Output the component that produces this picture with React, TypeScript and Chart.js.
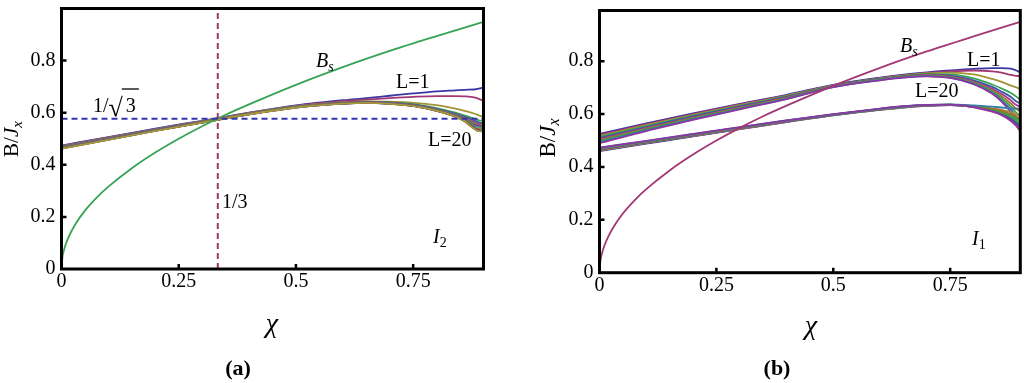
import React, { useEffect, useRef } from "react";
import { Chart, registerables } from "chart.js";

Chart.register(...registerables);

// ---------- data ----------
const X_TICKS = [0, 0.25, 0.5, 0.75];
const X_TICK_LABELS = ["0", "0.25", "0.5", "0.75"];
const Y_TICKS = [0, 0.2, 0.4, 0.6, 0.8];
const Y_TICK_LABELS = ["0", "0.2", "0.4", "0.6", "0.8"];

const BS_X = [0, 0.002, 0.005, 0.01, 0.02, 0.03, 0.05, 0.075, 0.1, 0.15, 0.2, 0.25, 0.3, 0.35, 0.4, 0.5, 0.6, 0.7, 0.8, 0.9];
const BS_Y = [0, 0.045, 0.071, 0.1, 0.141, 0.173, 0.224, 0.274, 0.316, 0.387, 0.447, 0.5, 0.548, 0.592, 0.632, 0.707, 0.775, 0.837, 0.894, 0.949];

const CHI_X = [0, 0.1, 0.2, 0.3, 0.4, 0.5, 0.6, 0.65, 0.7, 0.75, 0.8, 0.84, 0.86, 0.88, 0.89, 0.9];

// panel (a): I2, L = 1..20
const A_L = [
  [0.474, 0.506, 0.539, 0.569, 0.600, 0.628, 0.648, 0.656, 0.665, 0.674, 0.682, 0.686, 0.688, 0.689, 0.692, 0.697],
  [0.473, 0.505, 0.537, 0.568, 0.599, 0.626, 0.644, 0.650, 0.656, 0.661, 0.664, 0.664, 0.663, 0.659, 0.653, 0.645],
  [0.471, 0.503, 0.536, 0.567, 0.598, 0.625, 0.640, 0.643, 0.642, 0.638, 0.629, 0.616, 0.607, 0.597, 0.590, 0.583],
  [0.470, 0.502, 0.535, 0.566, 0.598, 0.624, 0.639, 0.642, 0.640, 0.633, 0.618, 0.600, 0.589, 0.577, 0.571, 0.567],
  [0.469, 0.502, 0.535, 0.566, 0.597, 0.624, 0.638, 0.641, 0.639, 0.631, 0.615, 0.596, 0.584, 0.570, 0.563, 0.558],
  [0.469, 0.501, 0.534, 0.565, 0.597, 0.623, 0.638, 0.641, 0.638, 0.630, 0.613, 0.593, 0.580, 0.564, 0.556, 0.552],
  [0.468, 0.501, 0.534, 0.565, 0.597, 0.623, 0.638, 0.640, 0.638, 0.629, 0.612, 0.591, 0.578, 0.560, 0.551, 0.556],
  [0.468, 0.500, 0.533, 0.565, 0.596, 0.623, 0.637, 0.640, 0.637, 0.629, 0.611, 0.590, 0.576, 0.557, 0.548, 0.548],
  [0.467, 0.500, 0.533, 0.564, 0.596, 0.622, 0.637, 0.640, 0.637, 0.628, 0.610, 0.589, 0.574, 0.554, 0.545, 0.543],
  [0.467, 0.500, 0.533, 0.564, 0.596, 0.622, 0.637, 0.640, 0.637, 0.628, 0.610, 0.588, 0.573, 0.552, 0.550, 0.540],
  [0.466, 0.499, 0.532, 0.564, 0.596, 0.622, 0.637, 0.639, 0.636, 0.628, 0.609, 0.588, 0.572, 0.550, 0.540, 0.545],
  [0.466, 0.499, 0.532, 0.564, 0.595, 0.622, 0.636, 0.639, 0.636, 0.627, 0.609, 0.587, 0.571, 0.548, 0.538, 0.537],
  [0.465, 0.499, 0.532, 0.563, 0.595, 0.621, 0.636, 0.639, 0.636, 0.627, 0.609, 0.587, 0.570, 0.546, 0.545, 0.535],
  [0.465, 0.498, 0.532, 0.563, 0.595, 0.621, 0.636, 0.639, 0.636, 0.627, 0.608, 0.586, 0.569, 0.545, 0.535, 0.540],
  [0.464, 0.498, 0.531, 0.563, 0.595, 0.621, 0.636, 0.639, 0.635, 0.627, 0.608, 0.586, 0.569, 0.543, 0.533, 0.532],
  [0.464, 0.498, 0.531, 0.563, 0.595, 0.621, 0.636, 0.638, 0.635, 0.626, 0.608, 0.586, 0.568, 0.542, 0.540, 0.530],
  [0.463, 0.497, 0.531, 0.562, 0.594, 0.621, 0.635, 0.638, 0.635, 0.626, 0.607, 0.585, 0.568, 0.541, 0.531, 0.536],
  [0.463, 0.497, 0.531, 0.562, 0.594, 0.620, 0.635, 0.638, 0.635, 0.626, 0.607, 0.585, 0.567, 0.540, 0.530, 0.528],
  [0.462, 0.497, 0.530, 0.562, 0.594, 0.620, 0.635, 0.638, 0.634, 0.626, 0.607, 0.585, 0.567, 0.539, 0.535, 0.527],
  [0.462, 0.496, 0.530, 0.562, 0.594, 0.620, 0.635, 0.638, 0.634, 0.626, 0.607, 0.585, 0.567, 0.538, 0.529, 0.530],
];

// reference lines in panel (a)
const A_HLINE_Y = 0.577; // 1/sqrt(3)
const A_VLINE_X = 0.3333; // 1/3

// panel (b): I1, upper family
const B_UPPER = [
  [0.525, 0.565, 0.603, 0.639, 0.673, 0.711, 0.738, 0.749, 0.758, 0.765, 0.771, 0.774, 0.774, 0.772, 0.766, 0.758],
  [0.521, 0.562, 0.600, 0.637, 0.671, 0.709, 0.736, 0.747, 0.756, 0.762, 0.765, 0.762, 0.757, 0.748, 0.745, 0.744],
  [0.517, 0.558, 0.597, 0.634, 0.669, 0.708, 0.735, 0.746, 0.754, 0.757, 0.750, 0.733, 0.722, 0.708, 0.702, 0.695],
  [0.513, 0.555, 0.594, 0.631, 0.667, 0.707, 0.734, 0.745, 0.751, 0.750, 0.735, 0.712, 0.697, 0.680, 0.668, 0.655],
  [0.509, 0.551, 0.591, 0.629, 0.665, 0.706, 0.733, 0.743, 0.749, 0.746, 0.728, 0.703, 0.685, 0.665, 0.650, 0.640],
  [0.505, 0.548, 0.588, 0.626, 0.663, 0.705, 0.732, 0.742, 0.747, 0.743, 0.723, 0.696, 0.676, 0.652, 0.636, 0.628],
  [0.502, 0.545, 0.586, 0.624, 0.661, 0.704, 0.731, 0.741, 0.746, 0.741, 0.720, 0.690, 0.668, 0.640, 0.622, 0.610],
  [0.498, 0.542, 0.583, 0.622, 0.660, 0.703, 0.730, 0.740, 0.745, 0.739, 0.717, 0.685, 0.660, 0.628, 0.608, 0.590],
  [0.494, 0.539, 0.581, 0.620, 0.658, 0.702, 0.729, 0.739, 0.744, 0.738, 0.715, 0.681, 0.653, 0.617, 0.594, 0.572],
  [0.490, 0.536, 0.578, 0.618, 0.657, 0.702, 0.728, 0.738, 0.743, 0.737, 0.713, 0.677, 0.647, 0.606, 0.580, 0.555],
];

// panel (b): lower family
const B_LOWER = [
  [0.460, 0.488, 0.516, 0.543, 0.570, 0.595, 0.616, 0.625, 0.631, 0.634, 0.628, 0.615, 0.604, 0.585, 0.565, 0.545],
  [0.462, 0.490, 0.517, 0.544, 0.571, 0.596, 0.617, 0.626, 0.632, 0.634, 0.627, 0.612, 0.600, 0.578, 0.558, 0.535],
  [0.463, 0.491, 0.518, 0.545, 0.572, 0.596, 0.617, 0.626, 0.632, 0.635, 0.630, 0.622, 0.616, 0.607, 0.600, 0.592],
  [0.465, 0.492, 0.519, 0.546, 0.572, 0.597, 0.618, 0.627, 0.633, 0.635, 0.629, 0.618, 0.608, 0.595, 0.585, 0.575],
  [0.466, 0.493, 0.520, 0.547, 0.573, 0.597, 0.618, 0.627, 0.633, 0.635, 0.627, 0.613, 0.602, 0.583, 0.570, 0.556],
  [0.467, 0.494, 0.521, 0.547, 0.573, 0.598, 0.619, 0.628, 0.633, 0.635, 0.626, 0.609, 0.596, 0.574, 0.558, 0.540],
  [0.469, 0.495, 0.522, 0.548, 0.574, 0.598, 0.619, 0.628, 0.634, 0.636, 0.630, 0.620, 0.612, 0.600, 0.592, 0.582],
  [0.470, 0.496, 0.523, 0.549, 0.575, 0.599, 0.620, 0.629, 0.634, 0.636, 0.628, 0.615, 0.605, 0.590, 0.577, 0.562],
  [0.472, 0.498, 0.524, 0.550, 0.576, 0.599, 0.620, 0.629, 0.635, 0.637, 0.633, 0.628, 0.625, 0.622, 0.621, 0.620],
  [0.473, 0.499, 0.525, 0.551, 0.576, 0.600, 0.621, 0.630, 0.635, 0.636, 0.627, 0.611, 0.598, 0.576, 0.560, 0.548],
];

// ---------- styling helpers ----------
const SERIF = '"Liberation Serif", "DejaVu Serif", "Times New Roman", serif';

function hsv(h: number, s: number, v: number) {
  const c = v * s;
  const hp = (h * 6) % 6;
  const x = c * (1 - Math.abs((hp % 2) - 1));
  let r = 0, g = 0, b = 0;
  if (hp < 1) [r, g, b] = [c, x, 0];
  else if (hp < 2) [r, g, b] = [x, c, 0];
  else if (hp < 3) [r, g, b] = [0, c, x];
  else if (hp < 4) [r, g, b] = [0, x, c];
  else if (hp < 5) [r, g, b] = [x, 0, c];
  else [r, g, b] = [c, 0, x];
  const m = v - c;
  const f = (t: number) => Math.round((t + m) * 255);
  return `rgb(${f(r)},${f(g)},${f(b)})`;
}
function palette(i: number) {
  const h = (0.67 + i * 0.236068) % 1;
  return hsv(h, 0.66, 0.64);
}

function toPts(xs: number[], ys: number[]) {
  return xs.map((x, k) => ({ x, y: ys[k] }));
}

function curve(xs: number[], ys: number[], color: string, order: number, extra: any = {}) {
  return {
    data: toPts(xs, ys),
    borderColor: color,
    backgroundColor: color,
    borderWidth: 1.8,
    pointRadius: 0,
    showLine: true,
    cubicInterpolationMode: "monotone",
    order,
    ...extra,
  };
}

type Part = { t: string; font: string; dy?: number; dx?: number };
function drawParts(ctx: CanvasRenderingContext2D, x: number, y: number, parts: Part[]) {
  let cx = x;
  for (const p of parts) {
    ctx.font = p.font;
    cx += p.dx || 0;
    ctx.fillText(p.t, cx, y + (p.dy || 0));
    cx += ctx.measureText(p.t).width;
  }
  return cx;
}
function partsWidth(ctx: CanvasRenderingContext2D, parts: Part[]) {
  let w = 0;
  for (const p of parts) {
    ctx.font = p.font;
    w += ctx.measureText(p.t).width + (p.dx || 0);
  }
  return w;
}

const f = (size: number, style = "") => `${style} ${size}px ${SERIF}`.trim();

type PanelSpec = {
  yWidth: number;
  xHeight: number;
  padTop: number;
  padRight: number;
  yMax: number;
  datasets: any[];
  yTitleX: number;
  yTitleY: number;
  yTitleSize: number;
  chiX: number;
  chiY: number;
  tagX: number;
  tag: string;
  annotate: (ctx: CanvasRenderingContext2D) => void;
};

function framePlugin(spec: PanelSpec) {
  return {
    id: "frame",
    afterDraw(chart: any) {
      const ctx: CanvasRenderingContext2D = chart.ctx;
      const { left, right, top, bottom } = chart.chartArea;
      const xs = chart.scales.x;
      const ys = chart.scales.y;
      ctx.save();
      ctx.fillStyle = "#000";
      ctx.strokeStyle = "#000";
      // inner ticks
      ctx.lineWidth = 2.5;
      ctx.beginPath();
      for (const v of X_TICKS) {
        if (v === 0) continue;
        const px = xs.getPixelForValue(v);
        ctx.moveTo(px, bottom);
        ctx.lineTo(px, bottom - 5);
      }
      for (const v of Y_TICKS) {
        if (v === 0) continue;
        const py = ys.getPixelForValue(v);
        ctx.moveTo(left, py);
        ctx.lineTo(left + 5, py);
      }
      ctx.stroke();
      // frame
      ctx.lineWidth = 3;
      ctx.strokeRect(left, top, right - left, bottom - top);

      ctx.textBaseline = "alphabetic";
      ctx.textAlign = "left";
      // y title  B/J_x
      const yParts: Part[] = [
        { t: "B/", font: f(spec.yTitleSize) },
        { t: "J", font: f(spec.yTitleSize, "italic") },
        { t: "x", font: f(Math.round(spec.yTitleSize * 0.7), "italic"), dy: spec.yTitleSize * 0.2 },
      ];
      ctx.save();
      ctx.translate(spec.yTitleX, spec.yTitleY);
      ctx.rotate(-Math.PI / 2);
      const w = partsWidth(ctx, yParts);
      drawParts(ctx, -w / 2, spec.yTitleSize * 0.33, yParts);
      ctx.restore();
      // chi
      ctx.font = f(28, "italic");
      ctx.textAlign = "center";
      ctx.fillText("\u03c7", spec.chiX, spec.chiY);
      // panel tag
      ctx.font = f(22, "bold");
      ctx.fillText(spec.tag, spec.tagX, 375);
      ctx.textAlign = "left";
      spec.annotate(ctx);
      ctx.restore();
    },
  };
}

function zeroPad(s: any) {
  s.paddingTop = 0;
  s.paddingBottom = 0;
  s.paddingLeft = 0;
  s.paddingRight = 0;
}

function makeConfig(spec: PanelSpec) {
  return {
    type: "scatter",
    data: { datasets: spec.datasets },
    options: {
      animation: false,
      responsive: false,
      devicePixelRatio: 1,
      layout: { padding: { top: spec.padTop, right: spec.padRight, left: 0, bottom: 0 } },
      plugins: { legend: { display: false }, tooltip: { enabled: false } },
      scales: {
        x: {
          type: "linear",
          min: 0,
          max: 0.9,
          grid: { display: false, drawTicks: false },
          border: { display: false },
          ticks: {
            color: "#000",
            font: { family: SERIF, size: 20 },
            padding: 1,
            maxRotation: 0,
            autoSkip: false,
            callback: (v: number) => X_TICK_LABELS[X_TICKS.indexOf(v)] ?? "",
          },
          afterBuildTicks: (s: any) => {
            s.ticks = X_TICKS.map((v) => ({ value: v }));
          },
          afterFit: (s: any) => {
            s.height = spec.xHeight;
            zeroPad(s);
          },
        },
        y: {
          type: "linear",
          min: 0,
          max: spec.yMax,
          grid: { display: false, drawTicks: false },
          border: { display: false },
          ticks: {
            color: "#000",
            font: { family: SERIF, size: 20 },
            padding: 6,
            autoSkip: false,
            callback: (v: number) => Y_TICK_LABELS[Y_TICKS.indexOf(v)] ?? "",
          },
          afterBuildTicks: (s: any) => {
            s.ticks = Y_TICKS.map((v) => ({ value: v }));
          },
          afterFit: (s: any) => {
            s.width = spec.yWidth;
            zeroPad(s);
          },
        },
      },
    },
    plugins: [framePlugin(spec)],
  };
}

// ---------- panels ----------
function panelA(): PanelSpec {
  const ds: any[] = [];
  A_L.forEach((ys, i) => ds.push(curve(CHI_X, ys, palette(i), 40 - i)));
  ds.push(curve(BS_X, BS_Y, palette(3), 5));
  ds.push({
    data: [{ x: 0, y: A_HLINE_Y }, { x: 0.9, y: A_HLINE_Y }],
    borderColor: "rgb(52,52,178)",
    borderWidth: 2,
    borderDash: [6, 4],
    pointRadius: 0,
    showLine: true,
    order: -2,
  });
  ds.push({
    data: [{ x: A_VLINE_X, y: 0 }, { x: A_VLINE_X, y: 1 }],
    borderColor: "rgb(160,52,110)",
    borderWidth: 2,
    borderDash: [6, 4],
    pointRadius: 0,
    showLine: true,
    order: -1,
  });
  return {
    yWidth: 61.5,
    xHeight: 114,
    padTop: 8.5,
    padRight: 28.5,
    yMax: 1.0,
    datasets: ds,
    yTitleX: 11,
    yTitleY: 139,
    yTitleSize: 21,
    chiX: 272,
    chiY: 332,
    tagX: 238,
    tag: "(a)",
    annotate: (ctx) => {
      ctx.fillStyle = "#000";
      drawParts(ctx, 316, 67, [
        { t: "B", font: f(20, "italic") },
        { t: "s", font: f(14, "italic"), dy: 4 },
      ]);
      drawParts(ctx, 396, 88, [{ t: "L=1", font: f(20) }]);
      drawParts(ctx, 428, 146, [{ t: "L=20", font: f(20) }]);
      // 1/sqrt(3)
      ctx.font = f(20);
      ctx.fillText("1/", 93, 112);
      const w1 = ctx.measureText("1/").width;
      ctx.font = f(26);
      ctx.fillText("\u221a", 93 + w1, 116);
      const wr = ctx.measureText("\u221a").width;
      ctx.font = f(20);
      const x3 = 93 + w1 + wr + 3;
      ctx.fillText("3", x3, 112);
      const w3 = ctx.measureText("3").width;
      ctx.lineWidth = 1.3;
      ctx.strokeStyle = "#000";
      ctx.beginPath();
      ctx.moveTo(93 + w1 + wr - 1, 89);
      ctx.lineTo(x3 + w3 + 3, 89);
      ctx.stroke();
      drawParts(ctx, 222, 208, [{ t: "1/3", font: f(20) }]);
      drawParts(ctx, 433, 243, [
        { t: "I", font: f(20, "italic") },
        { t: "2", font: f(14), dy: 4 },
      ]);
    },
  };
}

function panelB(): PanelSpec {
  const ds: any[] = [];
  B_UPPER.forEach((ys, i) => ds.push(curve(CHI_X, ys, palette(i), 40 - i)));
  B_LOWER.forEach((ys, i) => ds.push(curve(CHI_X, ys, palette(i), 20 - i)));
  ds.push(curve(BS_X, BS_Y, palette(1), 2));
  return {
    yWidth: 87.5,
    xHeight: 110.3,
    padTop: 10.5,
    padRight: 3.7,
    yMax: 0.992,
    datasets: ds,
    yTitleX: 35,
    yTitleY: 138,
    yTitleSize: 23,
    chiX: 299,
    chiY: 334,
    tagX: 265,
    tag: "(b)",
    annotate: (ctx) => {
      ctx.fillStyle = "#000";
      drawParts(ctx, 388, 52, [
        { t: "B", font: f(20, "italic") },
        { t: "s", font: f(14, "italic"), dy: 4 },
      ]);
      drawParts(ctx, 455, 66, [{ t: "L=1", font: f(20) }]);
      drawParts(ctx, 403, 97, [{ t: "L=20", font: f(20) }]);
      drawParts(ctx, 460, 245, [
        { t: "I", font: f(20, "italic") },
        { t: "1", font: f(14), dy: 4 },
      ]);
    },
  };
}

function Panel({ make, left }: { make: () => PanelSpec; left: number }) {
  const ref = useRef<HTMLCanvasElement | null>(null);
  useEffect(() => {
    if (!ref.current) return;
    const chart = new Chart(ref.current, makeConfig(make()) as any);
    return () => chart.destroy();
  }, []);
  return (
    <canvas
      ref={ref}
      width={512}
      height={383}
      style={{ position: "absolute", left, top: 0, width: 512, height: 383 }}
    />
  );
}

export default function App() {
  return (
    <div style={{ position: "fixed", left: 0, top: 0, width: 1024, height: 383, background: "#fff" }}>
      <Panel make={panelA} left={0} />
      <Panel make={panelB} left={512} />
    </div>
  );
}
